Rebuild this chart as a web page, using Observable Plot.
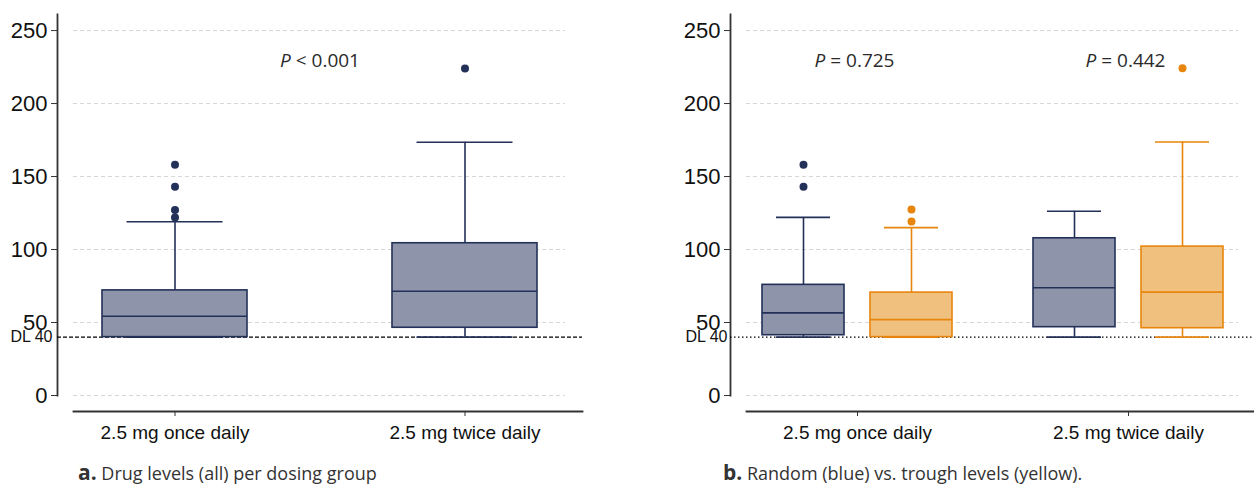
<!DOCTYPE html>
<html><head><meta charset="utf-8">
<script src="https://cdn.jsdelivr.net/npm/d3@7"></script>
<script src="https://cdn.jsdelivr.net/npm/@observablehq/plot@0.6"></script>
<style>
body{margin:0;background:#fff;}
#wrap{position:relative;width:1254px;height:485px;overflow:hidden;background:#fff;}
#pa{position:absolute;left:0;top:0;}
#pb{position:absolute;left:627px;top:0;}
.cap{position:absolute;top:462px;font-family:"Open Sans",sans-serif;font-size:18px;color:#333;white-space:nowrap;line-height:21px;}
.cap b{font-size:21px;color:#333;}
</style></head>
<body><div id="wrap"><div id="pa"></div><div id="pb"></div>
<div class="cap" id="ca" style="left:78px"></div>
<div class="cap" id="cb" style="left:723px"></div></div>
<script>
const groups = ["2.5 mg once daily", "2.5 mg twice daily"];
const yTicks = [0, 50, 100, 150, 200, 250];
const detectionLimit = [40];
const dlLabel = "DL 40";

// Panel a: drug levels (all) per dosing group
const aMin = [40, 40];
const aQ1 = [40, 46.4];
const aMedian = [54.3, 71.4];
const aQ3 = [72, 104.3];
const aMax = [119, 173.5];
const aOutliers = [[158, 143, 127, 122], [224]];
const aPText = ["P < 0.001"];
const aPy = [229];

// Panel b: random (blue)
const rMin = [40, 40];
const rQ1 = [41.3, 46.8];
const rMedian = [56.6, 73.8];
const rQ3 = [75.8, 107.7];
const rMax = [122, 126.2];
const rOutliers = [[158, 143], []];
// Panel b: trough (yellow)
const tMin = [40, 40];
const tQ1 = [40, 46.1];
const tMedian = [52, 70.8];
const tQ3 = [70.5, 102];
const tMax = [115, 173.7];
const tOutliers = [[127.4, 119.2], [224.2]];
const bPText = ["P = 0.725", "P = 0.442"];
const bPy = [229, 229];

const captionA = ["a.", "Drug levels (all) per dosing group"];
const captionB = ["b.", "Random (blue) vs. trough levels (yellow)."];

const NAVY = "#233058", BLUEFILL = "#8e95aa", ORANGE = "#e8850c", ORANGEFILL = "#f0c07e";
const fontFamily = "'Liberation Sans', Arial, sans-serif";

function rows(mins, q1s, meds, q3s, maxs) {
  return groups.map((g, i) => ({group: g, min: mins[i], q1: q1s[i], med: meds[i], q3: q3s[i], max: maxs[i]}));
}
function outs(list) {
  return list.flatMap((vals, i) => vals.map(v => ({group: groups[i], value: v})));
}
function boxMarks(data, out, s) {
  const sw = 1.6;
  return [
    Plot.ruleX(data, {x: "group", y1: "q3", y2: "max", stroke: s.stroke, strokeWidth: sw, dx: s.dx}),
    Plot.ruleX(data, {x: "group", y1: "min", y2: "q1", stroke: s.stroke, strokeWidth: sw, dx: s.dx}),
    Plot.tickY(data, {x: "group", y: "max", stroke: s.stroke, strokeWidth: sw, insetLeft: s.capL, insetRight: s.capR}),
    Plot.tickY(data, {x: "group", y: "min", stroke: s.stroke, strokeWidth: sw, insetLeft: s.capL, insetRight: s.capR}),
    Plot.barY(data, {x: "group", y1: "q1", y2: "q3", fill: s.fill, stroke: s.stroke, strokeWidth: sw, insetLeft: s.boxL, insetRight: s.boxR}),
    Plot.tickY(data, {x: "group", y: "med", stroke: s.stroke, strokeWidth: sw, insetLeft: s.boxL, insetRight: s.boxR}),
    Plot.dot(out, {x: "group", y: "value", r: 4, fill: s.dot, stroke: "none", dx: s.dx})
  ];
}
function common(insetRightGrid, dlDash, dlDx) {
  return [
    Plot.gridY(yTicks, {stroke: "#d6d6d6", strokeOpacity: 1, strokeDasharray: "4,3", insetLeft: 16, insetRight: insetRightGrid}),
    Plot.axisY(yTicks, {tickSize: 6, tickPadding: 4, fontSize: 22, fontFamily, label: null, stroke: "#333", fill: "#111"}),
    Plot.frame({anchor: "left", stroke: "#333", strokeWidth: 1.8}),
    Plot.frame({anchor: "bottom", dy: 16, insetLeft: 16, stroke: "#333", strokeWidth: 1.8}),
    Plot.axisX({tickSize: 5, tickPadding: 9, dy: 16, fontSize: 19, fontFamily, label: null, stroke: "#333", fill: "#111"}),
    Plot.ruleY(detectionLimit, {y: d => d, stroke: "#000", strokeWidth: 1.2, strokeDasharray: dlDash}),
    Plot.text(detectionLimit, {y: d => d, text: () => dlLabel, frameAnchor: "left", textAnchor: "end", dx: dlDx, fontSize: 16, fontFamily, fill: "#111"})
  ];
}

const plotA = Plot.plot({
  width: 627, height: 455,
  marginLeft: 57, marginRight: 45, marginTop: 14, marginBottom: 60,
  style: {fontFamily, background: "transparent", color: "#111", overflow: "visible"},
  x: {type: "band", domain: groups, paddingInner: 0.5, paddingOuter: 0.155, align: 0.5, axis: null},
  y: {domain: [0, 261], axis: null},
  marks: [
    ...common(17, "4,2", -5),
    ...boxMarks(rows(aMin, aQ1, aMedian, aQ3, aMax), outs(aOutliers),
      {stroke: NAVY, fill: BLUEFILL, dot: NAVY, dx: 0, boxL: 0, boxR: 0, capL: 24.5, capR: 24.5}),
    Plot.text(aPText, {y: (d, i) => aPy[i], text: d => d, fontSize: 19, fill: "#2a2a2a", fontFamily: "'Open Sans', sans-serif"})
  ]
});

const plotB = Plot.plot({
  width: 627, height: 455,
  marginLeft: 103, marginRight: 0, marginTop: 14, marginBottom: 60,
  style: {fontFamily, background: "transparent", color: "#111", overflow: "visible"},
  x: {type: "band", domain: groups, paddingInner: 0.3, paddingOuter: 0.116, align: 0.5, axis: null},
  y: {domain: [0, 261], axis: null},
  marks: [
    ...common(16, "1.5,2.5", -3),
    ...boxMarks(rows(rMin, rQ1, rMedian, rQ3, rMax), outs(rOutliers),
      {stroke: NAVY, fill: BLUEFILL, dot: NAVY, dx: -54, boxL: 0, boxR: 108, capL: 14, capR: 122}),
    ...boxMarks(rows(tMin, tQ1, tMedian, tQ3, tMax), outs(tOutliers),
      {stroke: ORANGE, fill: ORANGEFILL, dot: ORANGE, dx: 54, boxL: 108, boxR: 0, capL: 122, capR: 14}),
    Plot.text(bPText, {x: (d, i) => groups[i], y: (d, i) => bPy[i], text: d => d, dx: -3, fontSize: 19, fill: "#2a2a2a", fontFamily: "'Open Sans', sans-serif"})
  ]
});

document.getElementById("pa").appendChild(plotA);
document.getElementById("pb").appendChild(plotB);

// italicise the leading "P" of the P-value annotations
const pSet = new Set([...aPText, ...bPText]);
d3.selectAll("svg text").filter(function() { return pSet.has(this.textContent); }).each(function() {
  const s = this.textContent;
  const sel = d3.select(this);
  sel.text(null);
  sel.append("tspan").attr("font-style", "italic").text(s.slice(0, 1));
  sel.append("tspan").text(s.slice(1));
});

function caption(id, parts) {
  const el = d3.select("#" + id);
  el.append("b").text(parts[0]);
  el.append("span").text(" " + parts[1]);
}
caption("ca", captionA);
caption("cb", captionB);
</script>
</body></html>
